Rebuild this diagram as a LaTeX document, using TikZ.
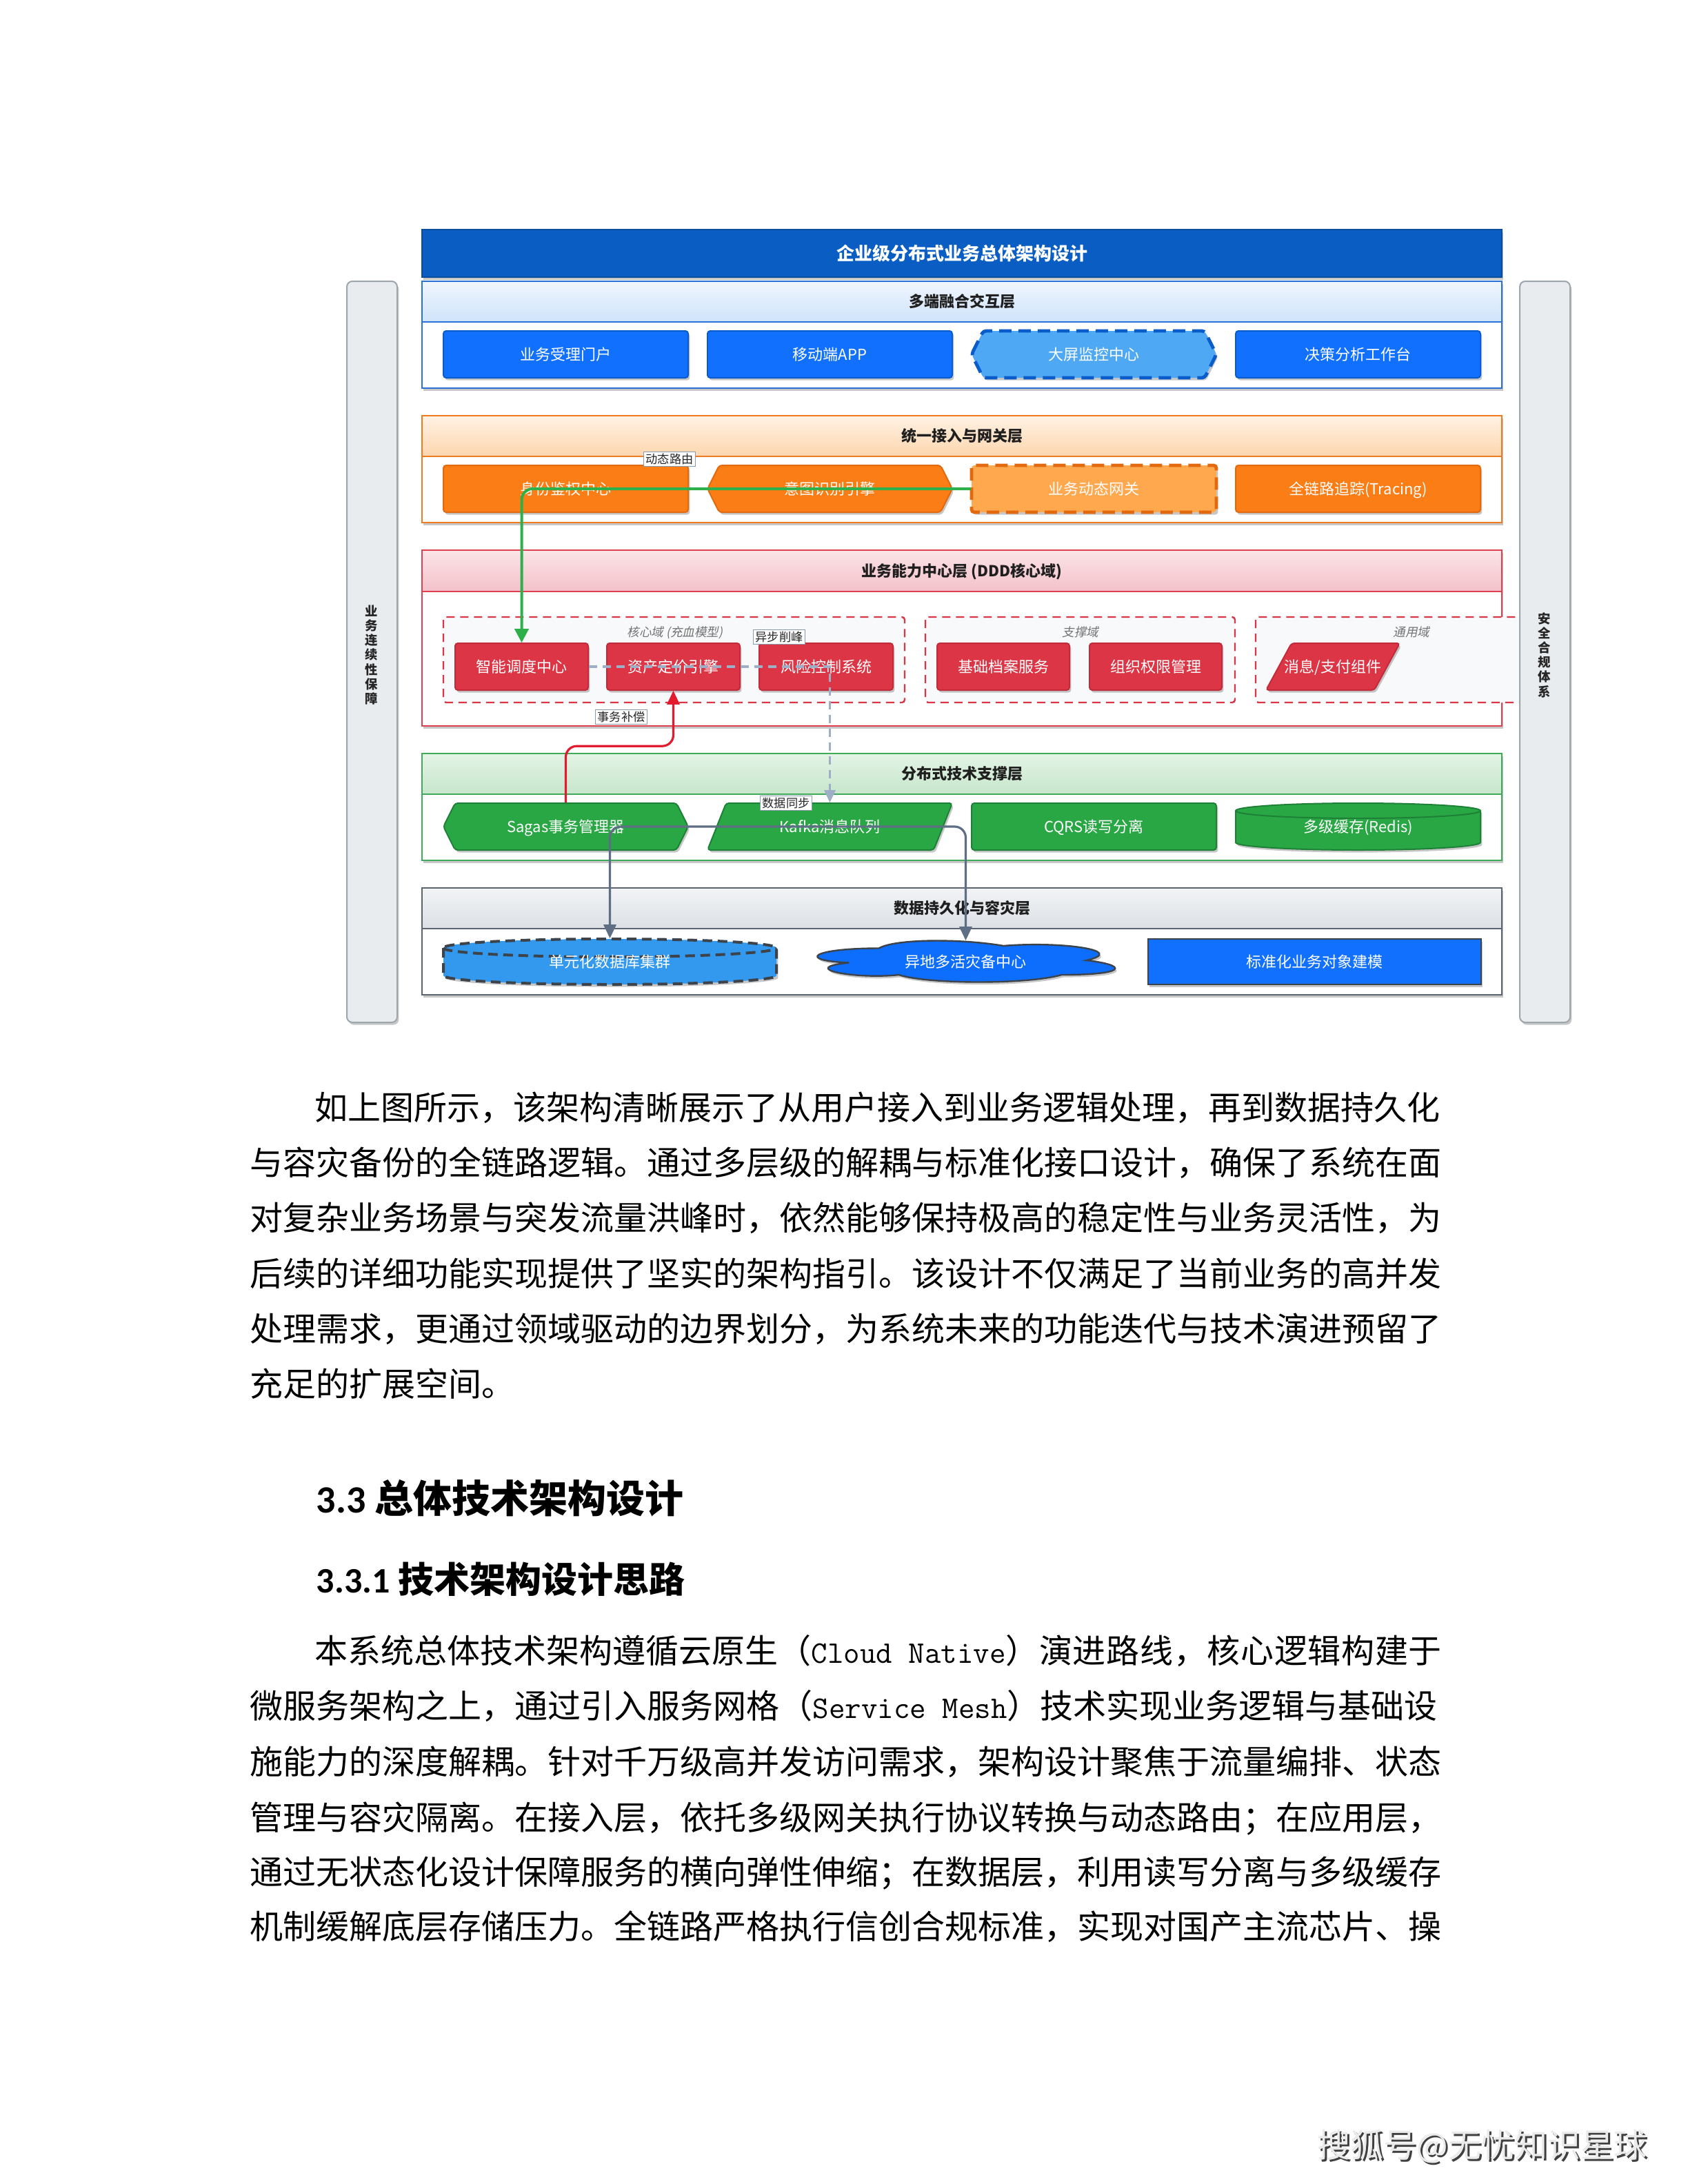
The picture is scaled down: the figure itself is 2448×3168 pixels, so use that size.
\documentclass[tikz,border=0pt]{standalone}
\usepackage{fontspec}
\setmainfont{Noto Sans CJK SC}
\newfontfamily\cjkit[FakeSlant=0.2]{Noto Sans CJK SC}
\newfontfamily\carlito{Carlito}
\usetikzlibrary{shadows,arrows.meta,fit}
\newdimen\pu \pu=0.25pt
\definecolor{titleblue}{HTML}{0A5DC2}
\definecolor{titleline}{HTML}{0B4C9E}
\definecolor{l1line}{HTML}{2A72D5}
\definecolor{l1top}{HTML}{F0F6FE}
\definecolor{l1bot}{HTML}{CFE3FA}
\definecolor{l2line}{HTML}{F07A20}
\definecolor{l2top}{HTML}{FFF2E4}
\definecolor{l2bot}{HTML}{FDD6AE}
\definecolor{l3line}{HTML}{E0404F}
\definecolor{l3top}{HTML}{FBE4E7}
\definecolor{l3bot}{HTML}{F3C1C9}
\definecolor{l4line}{HTML}{3EAB56}
\definecolor{l4top}{HTML}{E4F4E6}
\definecolor{l4bot}{HTML}{C6E6CB}
\definecolor{l5line}{HTML}{5B6572}
\definecolor{l5top}{HTML}{F1F3F5}
\definecolor{l5bot}{HTML}{DCE0E5}
\definecolor{bblue}{HTML}{1171FE}
\definecolor{bblueline}{HTML}{0B5CCB}
\definecolor{lblue}{HTML}{4EA8F3}
\definecolor{borange}{HTML}{FB7D16}
\definecolor{borangeline}{HTML}{E2690E}
\definecolor{lorange}{HTML}{FFA84E}
\definecolor{bred}{HTML}{DC3545}
\definecolor{bredline}{HTML}{C22B3A}
\definecolor{bgreen}{HTML}{29A744}
\definecolor{bgreenline}{HTML}{1E8137}
\definecolor{dbblue}{HTML}{3399EE}
\definecolor{cloudblue}{HTML}{0D6EFD}
\definecolor{darkline}{HTML}{3D434A}
\definecolor{side}{HTML}{E9ECEF}
\definecolor{sideline}{HTML}{9DA5AE}
\definecolor{domfill}{HTML}{F8F9FB}
\definecolor{labline}{HTML}{8A9AAE}
\definecolor{greenline}{HTML}{2DB04A}
\definecolor{redline}{HTML}{E21B2F}
\definecolor{grayline}{HTML}{5E6E84}
\definecolor{dashline}{HTML}{9DAEC6}
\tikzset{
  shadowed/.style={drop shadow={shadow xshift=0.6pt,shadow yshift=-0.9pt,opacity=0.22,fill=black}},
  lowby/.style={execute at begin node={\setbox0=\hbox\bgroup\lower#1\hbox\bgroup},execute at end node={\egroup\egroup\ht0=0pt\dp0=0pt\box0}},
  btxt/.style={inner sep=0pt,text=white,font=\fontsize{5.5}{6.5}\selectfont,lowby=2pt},
  hdrtxt/.style={inner sep=0pt,text=black!88,font=\fontsize{5.5}{6.5}\selectfont\bfseries,lowby=2pt},
  bluebox/.style={fill=bblue,draw=bblueline,line width=0.5pt,rounded corners=1pt,shadowed},
  lbluebox/.style={fill=lblue,draw=bblueline,line width=1.2pt,dash pattern=on 4.5pt off 2.5pt,rounded corners=1pt,shadowed},
  orbox/.style={fill=borange,draw=borangeline,line width=0.5pt,rounded corners=1pt,shadowed},
  lorbox/.style={fill=lorange,draw=borangeline,line width=1.2pt,dash pattern=on 4.5pt off 2.5pt,rounded corners=1pt,shadowed},
  redbox/.style={fill=bred,draw=bredline,line width=0.5pt,rounded corners=1pt,shadowed},
  grbox/.style={fill=bgreen,draw=bgreenline,line width=0.5pt,rounded corners=1pt,shadowed},
  grcyl/.style={fill=bgreen,draw=bgreenline,line width=0.5pt,shadowed},
  stdbox/.style={fill=bblue,draw=darkline,line width=0.6pt,shadowed},
  dbbox/.style={fill=dbblue,draw=darkline,line width=1pt,dash pattern=on 3.5pt off 2pt,shadowed},
  dbrim/.style={draw=darkline,line width=1pt,dash pattern=on 3.5pt off 2pt},
  cloudbox/.style={fill=cloudblue,draw=darkline,line width=0.6pt,shadowed},
  dombox/.style={fill=domfill,draw=bred,line width=0.6pt,dash pattern=on 3pt off 2pt,rounded corners=1pt},
  domlab/.style={inner sep=0pt,text=black!55,font=\cjkit\fontsize{4.4}{5}\selectfont,text height=3.7pt,text depth=0.3pt},
  elabel/.style={draw=labline,fill=white,line width=0.3pt,inner xsep=0.7pt,inner ysep=0.6pt,text=black!85,font=\fontsize{4.3}{5}\selectfont,text height=3.6pt,text depth=0.3pt},
  sidebar/.style={fill=side,draw=sideline,line width=0.5pt,rounded corners=2pt,shadowed,inner sep=0pt},
  sidetxt/.style={inner sep=0pt,align=center,text=black!85,font=\fontsize{4.6}{5.3}\selectfont\bfseries},
  greenedge/.style={draw=greenline,line width=1pt,rounded corners=4pt,-{Triangle[length=5pt,width=5pt]}},
  rededge/.style={draw=redline,line width=0.8pt,rounded corners=4pt,-{Triangle[length=5pt,width=4.5pt]}},
  grayedge/.style={draw=grayline,line width=0.8pt,rounded corners=4pt,-{Triangle[length=5pt,width=4.5pt]}},
  dashedge/.style={draw=dashline,line width=0.8pt,dash pattern=on 3pt off 2pt,-{Triangle[length=4.5pt,width=4pt]}},
  body/.style={inner sep=0pt,anchor=base west,font=\fontsize{12}{14}\selectfont},
  head/.style={inner sep=0pt,anchor=base west},
}
\newcommand\mkrect[7]{\path[#2] (#3,#4) rectangle (#5,#6);
  \node[btxt,fit={(#3,#4) (#5,#6)}] (#1) {#7};}
\newcommand\mkhex[8]{\path[#2] (#3,{(#4+#6)/2}) -- ({#3+#7},#4) -- ({#5-#7},#4) -- (#5,{(#4+#6)/2}) -- ({#5-#7},#6) -- ({#3+#7},#6) -- cycle;
  \node[btxt,fit={(#3,#4) (#5,#6)}] (#1) {#8};}
\newcommand\mkpara[8]{\path[#2] ({#3+#7},#4) -- (#5,#4) -- ({#5-#7},#6) -- (#3,#6) -- cycle;
  \node[btxt,fit={(#3,#4) (#5,#6)}] (#1) {#8};}
\newcommand\mklayer[8]{\path[draw=#2,line width=0.5pt,fill=white,shadowed] (612,#5) rectangle (2178,#7);
  \path[draw=#2,line width=0.5pt,top color=#3,bottom color=#4] (612,#5) rectangle (2178,#6);
  \node[hdrtxt,fit={(612,#5) (2178,#6)}] (#1) {#8};}
\newcommand\bline[5]{\node[body] (#1) at (#2,#3) {\hbox to #4\pu{#5}};}
\newcommand\lat[1]{{\ttfamily\fontsize{11.4}{14}\selectfont #1}}
\begin{document}
\begin{tikzpicture}[x=0.25pt,y=-0.25pt]
\useasboundingbox (0,0) rectangle (2448,3168);
\fill[white] (0,0) rectangle (2448,3168);
% title
\path[fill=titleblue,draw=titleline,line width=0.4pt,shadowed] (612,333) rectangle (2178,402);
\node[inner sep=0pt,text=white,font=\fontsize{6.5}{7.5}\selectfont\bfseries,lowby=2.45pt,fit={(612,333) (2178,402)}] (title) {企业级分布式业务总体架构设计};
% layers
\mklayer{L1}{l1line}{l1top}{l1bot}{408}{467}{563}{多端融合交互层}
\mklayer{L2}{l2line}{l2top}{l2bot}{603}{662}{758}{统一接入与网关层}
\mklayer{L3}{l3line}{l3top}{l3bot}{798}{858}{1053}{业务能力中心层 (DDD核心域)}
\mklayer{L4}{l4line}{l4top}{l4bot}{1093}{1152}{1248}{分布式技术支撑层}
\mklayer{L5}{l5line}{l5top}{l5bot}{1288}{1347}{1443}{数据持久化与容灾层}
% row 1
\mkrect{portal}{bluebox}{643}{480}{998}{548}{业务受理门户}
\mkrect{app}{bluebox}{1026}{480}{1381}{548}{移动端APP}
\mkhex{screen}{lbluebox}{1409}{480}{1764}{548}{17}{大屏监控中心}
\mkrect{decision}{bluebox}{1792}{480}{2147}{548}{决策分析工作台}
% row 2
\mkrect{auth}{orbox}{643}{675}{998}{743}{身份鉴权中心}
\mkhex{intent}{orbox}{1026}{675}{1381}{743}{17}{意图识别引擎}
\mkrect{gw}{lorbox}{1409}{675}{1764}{743}{业务动态网关}
\mkrect{trace}{orbox}{1792}{675}{2147}{743}{全链路追踪(Tracing)}
% domains
\path[dombox] (643,895) rectangle (1312,1019);
\node[domlab] (coreLab) at (979,917) {核心域 (充血模型)};
\path[dombox] (1342,895) rectangle (1791,1019);
\node[domlab] (supLab) at (1567,917) {支撑域};
\path[dombox] (1821,895) rectangle (2230,1019);
\node[domlab] (genLab) at (2047,917) {通用域};
% row 3
\mkrect{disp}{redbox}{660}{933}{853}{1001}{智能调度中心}
\mkrect{assets}{redbox}{880}{933}{1073}{1001}{资产定价引擎}
\mkrect{risk}{redbox}{1101}{933}{1295}{1001}{风险控制系统}
\mkrect{archive}{redbox}{1359}{933}{1551}{1001}{基础档案服务}
\mkrect{org}{redbox}{1580}{933}{1772}{1001}{组织权限管理}
\mkpara{msg}{redbox}{1836}{933}{2030}{1001}{37}{消息/支付组件}
% row 4
\mkhex{sagas}{grbox}{643}{1165}{998}{1233}{17}{Sagas事务管理器}
\mkpara{kafka}{grbox}{1026}{1165}{1381}{1233}{27}{Kafka消息队列}
\mkrect{cqrs}{grbox}{1409}{1165}{1764}{1233}{CQRS读写分离}
\path[grcyl] (1792,1176) -- (1792,1222) .. controls (1792,1228.1) and (1871.5,1233) .. (1969.5,1233) .. controls (2067.5,1233) and (2147,1228.1) .. (2147,1222) -- (2147,1176) .. controls (2147,1169.9) and (2067.5,1165) .. (1969.5,1165) .. controls (1871.5,1165) and (1792,1169.9) .. cycle;
\draw[draw=bgreenline,line width=0.5pt] (1792,1176) .. controls (1792,1182.1) and (1871.5,1187) .. (1969.5,1187) .. controls (2067.5,1187) and (2147,1182.1) .. (2147,1176);
\node[btxt,fit={(1792,1165) (2147,1233)}] (redis) {多级缓存(Redis)};
% row 5
\path[dbbox] (643,1375) -- (643,1415) .. controls (643,1422.2) and (751.1,1428) .. (884.5,1428) .. controls (1017.9,1428) and (1126,1422.2) .. (1126,1415) -- (1126,1375) .. controls (1126,1367.8) and (1017.9,1362) .. (884.5,1362) .. controls (751.1,1362) and (643,1367.8) .. cycle;
\draw[dbrim] (643,1375) .. controls (643,1382.2) and (751.1,1388) .. (884.5,1388) .. controls (1017.9,1388) and (1126,1382.2) .. (1126,1375);
\node[btxt,fit={(643,1362) (1126,1428)}] (db) {单元化数据库集群};
\begin{scope}[shift={(1154,1358)},x=120.5pt,y=-17.5pt]
\path[cloudbox] (0.25,0.25) .. controls (0.05,0.25) and (0,0.5) .. (0.16,0.55) .. controls (0,0.66) and (0.18,0.9) .. (0.31,0.8) .. controls (0.4,1) and (0.7,1) .. (0.8,0.8) .. controls (1,0.8) and (1,0.6) .. (0.875,0.5) .. controls (1,0.3) and (0.8,0.1) .. (0.625,0.2) .. controls (0.5,0.05) and (0.3,0.05) .. (0.25,0.25) -- cycle;
\end{scope}
\node[btxt,fit={(1185,1365) (1616,1425)}] (dr) {异地多活灾备中心};
\mkrect{model}{stdbox}{1665}{1362}{2148}{1428}{标准化业务对象建模}
% side bars
\node[sidebar,fit={(503,408) (576,1483)}] (lbar) {};
\node[sidetxt] (lbarT) at (539,950) {业\\务\\连\\续\\性\\保\\障};
\node[sidebar,fit={(2204,408) (2277,1483)}] (rbar) {};
\node[sidetxt] (rbarT) at (2240,950) {安\\全\\合\\规\\体\\系};
% connectors
\draw[greenedge] (gw.west) -| (disp.north);
\draw[dashedge] (disp.east) -| (kafka.north);
\draw[rededge] (sagas.north) -- ++(0,-82) -| (assets.south);
\draw[grayedge] (kafka.center) -| (db.north);
\draw[grayedge] (kafka.center) -| (dr.north);
% connector labels
\node[elabel] (lbRoute) at (971,666) {动态路由};
\node[elabel] (lbAsync) at (1130,924) {异步削峰};
\node[elabel] (lbSync) at (1140,1165) {数据同步};
\node[elabel] (lbComp) at (901,1040) {事务补偿};
% paragraph 1
\bline{pa1}{456}{1624}{1634}{如上图所示，该架构清晰展示了从用户接入到业务逻辑处理，再到数据持久化}
\bline{pa2}{362}{1704}{1728}{与容灾备份的全链路逻辑。通过多层级的解耦与标准化接口设计，确保了系统在面}
\bline{pa3}{362}{1784}{1728}{对复杂业务场景与突发流量洪峰时，依然能够保持极高的稳定性与业务灵活性，为}
\bline{pa4}{362}{1865}{1728}{后续的详细功能实现提供了坚实的架构指引。该设计不仅满足了当前业务的高并发}
\bline{pa5}{362}{1945}{1728}{处理需求，更通过领域驱动的边界划分，为系统未来的功能迭代与技术演进预留了}
\node[body] (pa6) at (362,2025) {充足的扩展空间。};
% headings
\node[head] (h33) at (458,2194) {\fontsize{14}{16}\selectfont\bfseries{\carlito\bfseries 3.3 }总体技术架构设计};
\node[head] (h331) at (458,2310) {\fontsize{13}{15}\selectfont\bfseries{\carlito\bfseries 3.3.1 }技术架构设计思路};
% paragraph 2
\bline{pb1}{456}{2412}{1634}{本系统总体技术架构遵循云原生（\lat{Cloud Native}）\hfil 演\hfil 进\hfil 路\hfil 线\hfil ，\hfil 核\hfil 心\hfil 逻\hfil 辑\hfil 构\hfil 建\hfil 于}
\bline{pb2}{362}{2492}{1728}{微服务架构之上，通过引入服务网格（\lat{Service Mesh}）技术实现业务逻辑与基础设}
\bline{pb3}{362}{2573}{1728}{施能力的深度解耦。针对千万级高并发访问需求，架构设计聚焦于流量编排、状态}
\bline{pb4}{362}{2654}{1728}{管理与容灾隔离。在接入层，依托多级网关执行协议转换与动态路由；在应用层，}
\bline{pb5}{362}{2733}{1728}{通过无状态化设计保障服务的横向弹性伸缩；在数据层，利用读写分离与多级缓存}
\bline{pb6}{362}{2812}{1728}{机制缓解底层存储压力。全链路严格执行信创合规标准，实现对国产主流芯片、操}
% bottom-right mark
\node[anchor=west,inner sep=0pt,text=black!75,font=\fontsize{12}{14}\selectfont] (wmS) at (1913,3116) {搜狐号@无忧知识星球};
\node[anchor=west,inner sep=0pt,text=white!92!black,font=\fontsize{12}{14}\selectfont] (wm) at (1910,3113) {搜狐号@无忧知识星球};
\end{tikzpicture}
\end{document}
